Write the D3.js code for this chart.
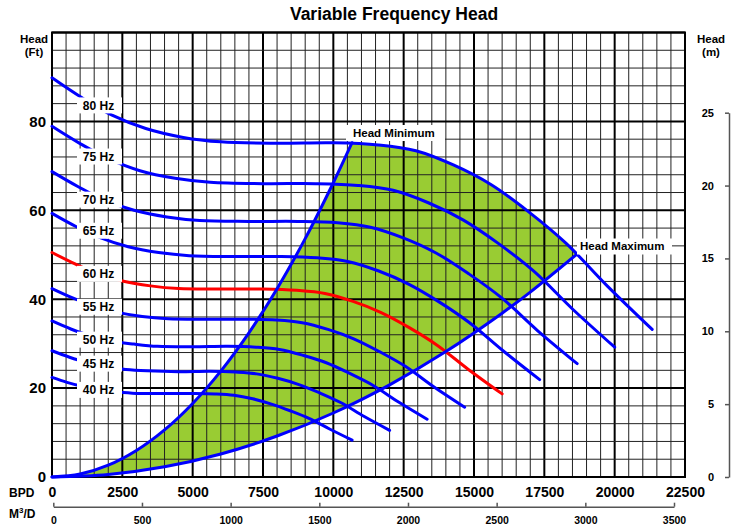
<!DOCTYPE html>
<html><head><meta charset="utf-8">
<script src="https://cdn.jsdelivr.net/npm/d3@7"></script>
<style>
body{margin:0;background:#fff;}
svg{display:block;font-family:"Liberation Sans",Arial,sans-serif;font-weight:bold;}
</style></head><body>
<svg id="chart" width="740" height="531"></svg>
<script>
// ---- data (BPD, ft) ----
const freqs = [40, 45, 50, 55, 60, 65, 70, 75, 80];
const q40 = [0, 533, 1067, 1667, 2333, 3000, 4000, 5000, 5800, 6467, 7133, 7800, 8467, 9133, 9867, 10667];
const h40 = [22.4, 21.3, 20.4, 19.6, 19.1, 18.8, 18.8, 18.8, 18.7, 18.4, 17.6, 16.4, 14.9, 13.2, 10.8, 8.3];
const q45 = [0, 600, 1200, 1875, 2625, 3375, 4500, 5625, 6525, 7275, 8025, 8775, 9525, 10275, 11100, 12000];
const h45 = [28.4, 27.0, 25.8, 24.8, 24.2, 23.9, 23.7, 23.8, 23.6, 23.2, 22.2, 20.8, 18.9, 16.7, 13.6, 10.5];
const q50 = [0, 667, 1333, 2083, 2917, 3750, 5000, 6250, 7250, 8083, 8917, 9750, 10583, 11417, 12333, 13333];
const h50 = [35.1, 33.3, 31.8, 30.6, 29.9, 29.4, 29.3, 29.4, 29.2, 28.7, 27.4, 25.7, 23.3, 20.6, 16.8, 13.0];
const q55 = [0, 733, 1467, 2292, 3208, 4125, 5500, 6875, 7975, 8892, 9808, 10725, 11642, 12558, 13567, 14667];
const h55 = [42.4, 40.3, 38.5, 37.1, 36.1, 35.6, 35.5, 35.5, 35.3, 34.7, 33.2, 31.1, 28.2, 24.9, 20.3, 15.7];
const q60 = [0, 800, 1600, 2500, 3500, 4500, 6000, 7500, 8700, 9700, 10700, 11700, 12700, 13700, 14800, 16000];
const h60 = [50.5, 48.0, 45.8, 44.1, 43.0, 42.4, 42.3, 42.3, 42.0, 41.3, 39.5, 37.0, 33.6, 29.6, 24.2, 18.7];
const q65 = [0, 867, 1733, 2708, 3792, 4875, 6500, 8125, 9425, 10508, 11592, 12675, 13758, 14842, 16033, 17333];
const h65 = [59.3, 56.3, 53.8, 51.8, 50.5, 49.8, 49.6, 49.6, 49.3, 48.5, 46.4, 43.4, 39.4, 34.7, 28.4, 21.9];
const q70 = [0, 933, 1867, 2917, 4083, 5250, 7000, 8750, 10150, 11317, 12483, 13650, 14817, 15983, 17267, 18667];
const h70 = [68.7, 65.3, 62.3, 60.0, 58.5, 57.7, 57.5, 57.5, 57.2, 56.2, 53.8, 50.4, 45.7, 40.3, 32.9, 25.5];
const q75 = [0, 1000, 2000, 3125, 4375, 5625, 7500, 9375, 10875, 12125, 13375, 14625, 15875, 17125, 18500, 20000];
const h75 = [78.9, 75.0, 71.6, 68.9, 67.2, 66.3, 66.0, 66.0, 65.6, 64.5, 61.7, 57.8, 52.5, 46.3, 37.8, 29.2];
const q80 = [0, 1067, 2133, 3333, 4667, 6000, 8000, 10000, 11600, 12933, 14267, 15600, 16933, 18267, 19733, 21333];
const h80 = [89.8, 85.3, 81.4, 78.4, 76.4, 75.4, 75.1, 75.2, 74.7, 73.4, 70.2, 65.8, 59.7, 52.6, 43.0, 33.2];
const headMinQ = [0, 1000, 2000, 3000, 4000, 5000, 6000, 7000, 8000, 9000, 10000, 10664];
const headMinH = [0, 0.66, 2.65, 5.96, 10.59, 16.55, 23.83, 32.44, 42.37, 53.62, 66.2, 75.2];
const headMaxQ = [0, 2000, 4000, 6000, 8000, 10000, 12000, 14000, 16000, 17000, 18650];
const headMaxH = [0, 0.58, 2.3, 5.18, 9.22, 14.4, 20.74, 28.22, 36.86, 41.6, 50.1];
const labelFt = [19.6, 25.5, 30.9, 38.3, 45.7, 55.4, 62.4, 72.1, 83.6];
const bpdTicks = [0, 2500, 5000, 7500, 10000, 12500, 15000, 17500, 20000, 22500];
const ftTicks = [0, 20, 40, 60, 80];
const mTicks = [0, 5, 10, 15, 20, 25];
const m3dTicks = [0, 500, 1000, 1500, 2000, 2500, 3000, 3500];

const curveQ = [q40, q45, q50, q55, q60, q65, q70, q75, q80];
const curveH = [h40, h45, h50, h55, h60, h65, h70, h75, h80];

// ---- layout ----
const svg = d3.select("#chart");
const L = 52, R = 685, T = 32.5, B = 477;
const x = d3.scaleLinear().domain([0, 22500]).range([L, R]);
const y = d3.scaleLinear().domain([0, 100]).range([B, T]);
const yM = d3.scaleLinear().domain([0, 25]).range([B, 112.7]);
const xM = d3.scaleLinear().domain([0, 3500]).range([53.3, 674]);

const line = d3.line().x(d => x(d[0])).y(d => y(d[1])).curve(d3.curveCatmullRom.alpha(0.5));
const pts = (qs, hs) => qs.map((q, i) => [q, hs[i]]);

// green operating region
const minPts = pts(headMinQ, headMinH);
const maxPts = pts(headMaxQ, headMaxH);
const qStart = minPts[minPts.length - 1][0], qEnd = maxPts[maxPts.length - 1][0];
const topSeg = [minPts[minPts.length - 1]]
  .concat(pts(q80, h80).filter(p => p[0] > qStart + 200 && p[0] < qEnd - 200))
  .concat([maxPts[maxPts.length - 1]]);
const fillD = line(minPts) + line(topSeg).replace(/^M/, "L") +
  line(maxPts.slice().reverse()).replace(/^M/, "L") + "Z";
svg.append("path").attr("d", fillD).attr("fill", "#99cc33").attr("stroke", "none");

// grid
const g = svg.append("g");
d3.range(0, 22501, 500).forEach(v => {
  const major = v % 2500 === 0;
  g.append("line").attr("x1", x(v)).attr("x2", x(v)).attr("y1", T).attr("y2", B)
    .attr("stroke", major ? "#000" : "#222").attr("stroke-width", major ? 2 : 1);
});
d3.range(0, 101, 4).forEach(v => {
  const major = v % 20 === 0;
  g.append("line").attr("x1", L).attr("x2", R).attr("y1", y(v)).attr("y2", y(v))
    .attr("stroke", major ? "#000" : "#222").attr("stroke-width", major ? 2 : 1);
});
svg.append("rect").attr("x", L).attr("y", T).attr("width", R - L).attr("height", B - T)
  .attr("fill", "none").attr("stroke", "#000").attr("stroke-width", 2);

// frequency curves
freqs.forEach((f, i) => {
  svg.append("path").attr("d", line(pts(curveQ[i], curveH[i])))
    .attr("fill", "none").attr("stroke", f === 60 ? "#ff0000" : "#0000ff")
    .attr("stroke-width", 3).attr("stroke-linecap", "round");
});
// head min / max
[minPts, maxPts].forEach(p => {
  svg.append("path").attr("d", line(p)).attr("fill", "none")
    .attr("stroke", "#0000ff").attr("stroke-width", 3).attr("stroke-linecap", "round");
});

// Hz labels
freqs.forEach((f, i) => {
  const cy = y(labelFt[i]);
  svg.append("rect").attr("x", 77).attr("y", cy - 8).attr("width", 45).attr("height", 16).attr("fill", "#fff");
  svg.append("text").attr("x", 98.5).attr("y", cy).attr("dy", "0.36em").attr("text-anchor", "middle")
    .style("font-size", "12px").text(f + " Hz");
});
// Head Minimum / Maximum labels
svg.append("rect").attr("x", 346).attr("y", 125).attr("width", 99).attr("height", 16).attr("fill", "#fff");
svg.append("text").attr("x", 353).attr("y", 137).style("font-size", "11.5px").text("Head Minimum");
svg.append("rect").attr("x", 577).attr("y", 238.5).attr("width", 95).attr("height", 16).attr("fill", "#fff");
svg.append("text").attr("x", 580).attr("y", 250).style("font-size", "11.5px").text("Head Maximum");

// axes
const fmt = d3.format("d");
const ax = d3.axisLeft(y).tickValues(ftTicks).tickFormat(fmt).tickSize(0).tickPadding(6);
const gl = svg.append("g").attr("transform", `translate(${L},0)`).call(ax);
gl.select(".domain").remove();
gl.selectAll("text").style("font-size", "15px").style("font-weight", "bold").attr("font-family", null).attr("fill", "#000");

const ab = d3.axisBottom(x).tickValues(bpdTicks).tickFormat(fmt).tickSize(0).tickPadding(10);
const gb = svg.append("g").attr("transform", `translate(0,${B})`).call(ab);
gb.select(".domain").remove();
gb.selectAll("text").style("font-size", "14px").style("font-weight", "bold").attr("font-family", null).attr("fill", "#000");

const ar = d3.axisLeft(yM).tickValues(mTicks).tickFormat(fmt).tickSize(4).tickSizeOuter(0).tickPadding(11);
const gr = svg.append("g").attr("transform", "translate(729,0)").call(ar);
gr.select(".domain").attr("stroke", "#555").attr("stroke-width", 1.5);
gr.selectAll(".tick line").attr("stroke", "#555").attr("stroke-width", 1.5);
gr.selectAll("text").style("font-size", "11px").style("font-weight", "bold").attr("font-family", null).attr("fill", "#000");

const am = d3.axisBottom(xM).tickValues(m3dTicks).tickFormat(fmt).tickSize(-4).tickSizeOuter(0).tickPadding(10);
const gm = svg.append("g").attr("transform", "translate(0,506.7)").call(am);
gm.select(".domain").attr("stroke", "#555").attr("stroke-width", 1.5);
gm.selectAll(".tick line").attr("stroke", "#555").attr("stroke-width", 1.5);
gm.selectAll("text").style("font-size", "10.5px").style("font-weight", "bold").attr("font-family", null).attr("fill", "#000");

// titles
svg.append("text").attr("x", 394).attr("y", 20).attr("text-anchor", "middle").style("font-size", "17.5px").text("Variable Frequency Head");
svg.append("text").attr("x", 34).attr("y", 43).attr("text-anchor", "middle").style("font-size", "11.5px").text("Head");
svg.append("text").attr("x", 34).attr("y", 56).attr("text-anchor", "middle").style("font-size", "11.5px").text("(Ft)");
svg.append("text").attr("x", 711).attr("y", 43).attr("text-anchor", "middle").style("font-size", "11.5px").text("Head");
svg.append("text").attr("x", 711).attr("y", 56).attr("text-anchor", "middle").style("font-size", "11.5px").text("(m)");
svg.append("text").attr("x", 9).attr("y", 497).style("font-size", "12px").text("BPD");
const md = svg.append("text").attr("x", 9).attr("y", 518).style("font-size", "12px");
md.append("tspan").text("M");
md.append("tspan").attr("dy", "-5").style("font-size", "8px").text("3");
md.append("tspan").attr("dy", "5").text("/D");
</script>
</body></html>
